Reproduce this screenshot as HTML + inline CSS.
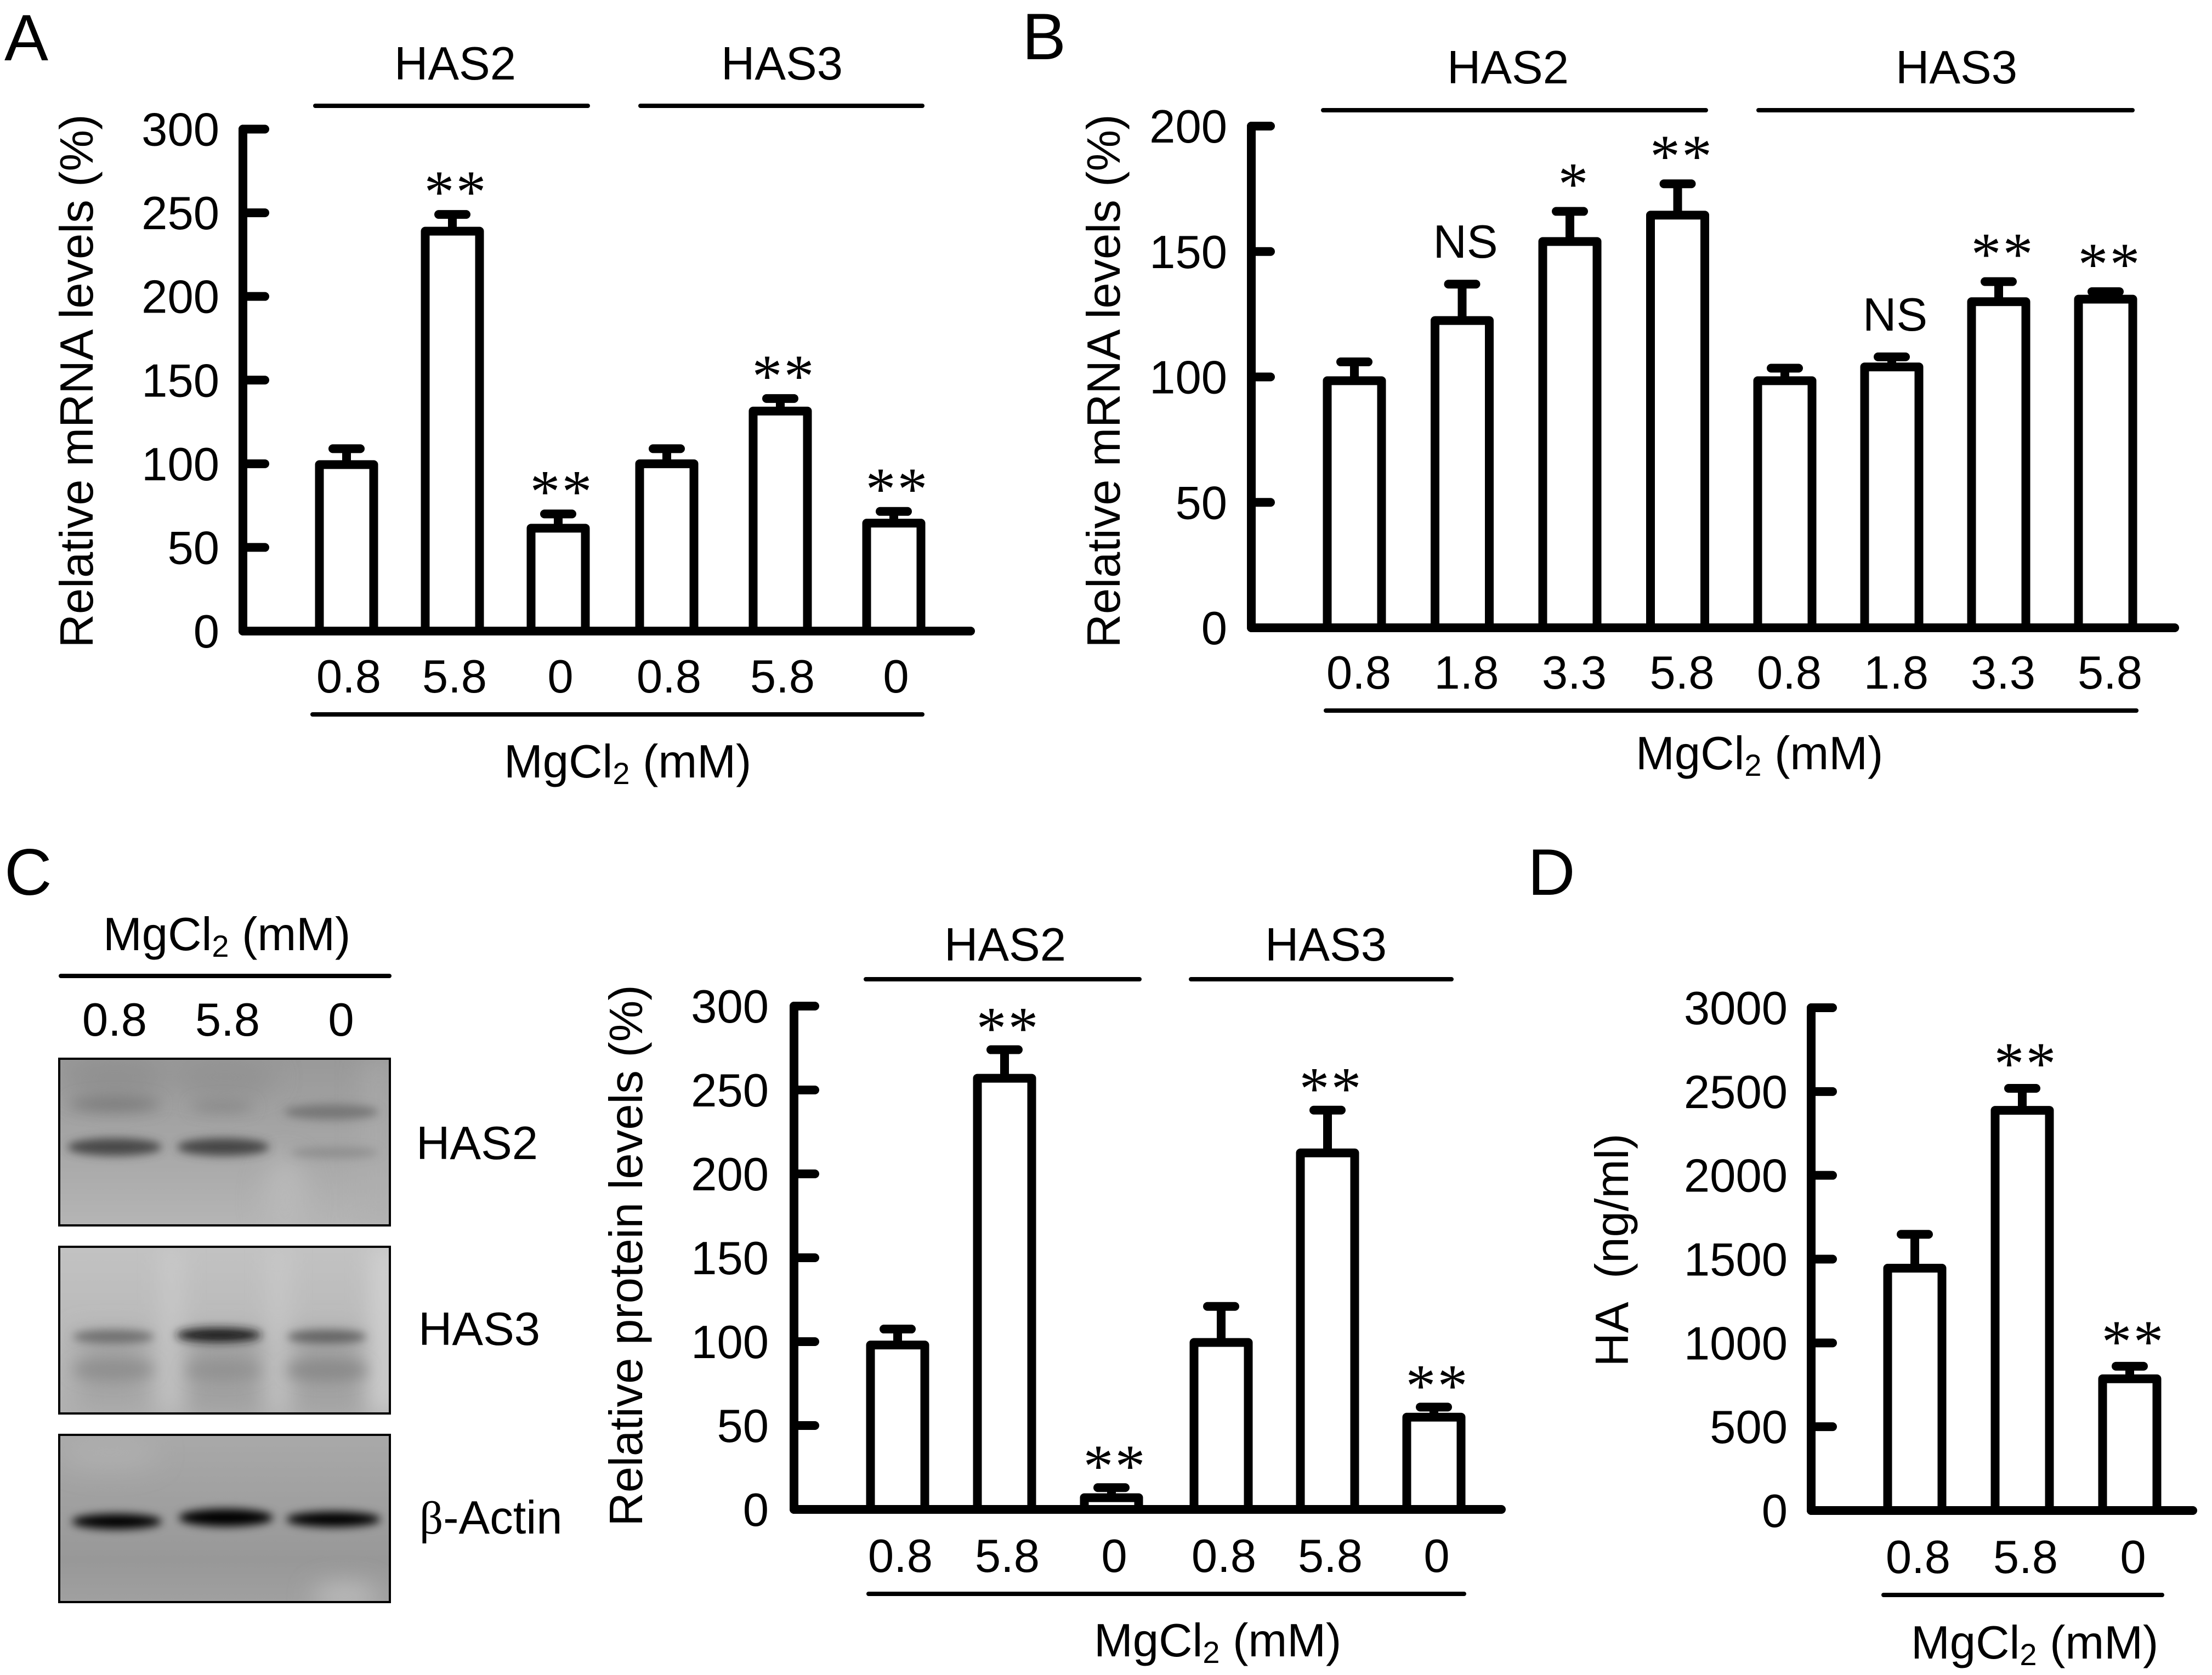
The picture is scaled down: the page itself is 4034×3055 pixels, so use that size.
<!DOCTYPE html>
<html lang="en">
<head>
<meta charset="utf-8">
<title>MgCl2 effects on HAS2 and HAS3</title>
<style>
html,body{margin:0;padding:0;background:#fff;width:4034px;height:3055px;overflow:hidden}
svg{display:block}
text{font-family:"Liberation Sans",Arial,sans-serif;font-size:85px;fill:#000}
.panel-letter{font-size:120px}
.star{font-family:"Liberation Serif","Times New Roman",serif;font-size:110px;text-anchor:middle}
.rule{stroke:#000;stroke-width:8;stroke-linecap:round}
</style>
</head>
<body>
<svg id="figure" xmlns="http://www.w3.org/2000/svg" width="4034" height="3055" viewBox="0 0 4034 3055">
<defs>
<filter id="blur-wide" x="-50%" y="-200%" width="200%" height="500%"><feGaussianBlur stdDeviation="8"/></filter>
<filter id="blur-mid" x="-50%" y="-200%" width="200%" height="500%"><feGaussianBlur stdDeviation="13"/></filter>
<filter id="blur-soft" x="-50%" y="-100%" width="200%" height="300%"><feGaussianBlur stdDeviation="22"/></filter>
<linearGradient id="blot1-bg" x1="0" y1="0" x2="0" y2="1"><stop offset="0" stop-color="#999"/><stop offset=".5" stop-color="#a6a6a6"/><stop offset="1" stop-color="#b5b5b5"/></linearGradient>
<linearGradient id="blot2-bg" x1="0" y1="0" x2="0" y2="1"><stop offset="0" stop-color="#c2c2c2"/><stop offset=".6" stop-color="#b8b8b8"/><stop offset="1" stop-color="#b0b0b0"/></linearGradient>
<linearGradient id="blot3-bg" x1="0" y1="0" x2="0" y2="1"><stop offset="0" stop-color="#a9a9a9"/><stop offset=".4" stop-color="#a0a0a0"/><stop offset=".75" stop-color="#989898"/><stop offset="1" stop-color="#a0a0a0"/></linearGradient>
<clipPath id="clip1"><rect x="108" y="1931" width="603" height="304"/></clipPath>
<clipPath id="clip2"><rect x="108" y="2274" width="603" height="304"/></clipPath>
<clipPath id="clip3"><rect x="108" y="2617" width="603" height="305"/></clipPath>
</defs>

<text class="panel-letter" x="8" y="110">A</text>
<text class="panel-letter" x="1864" y="108">B</text>
<text class="panel-letter" x="8" y="1632">C</text>
<text class="panel-letter" x="2786" y="1632">D</text>

<!-- Western blot, panel C -->
<g>
<text x="188" y="1733">MgCl<tspan font-size="56" dy="12">2</tspan><tspan dy="-12"> (mM)</tspan></text>
<line class="rule" x1="111" y1="1780" x2="710" y2="1780"/>
<text x="209" y="1889" text-anchor="middle">0.8</text>
<text x="415" y="1889" text-anchor="middle">5.8</text>
<text x="622" y="1889" text-anchor="middle">0</text>

<g>
<rect x="108" y="1931" width="603" height="304" fill="url(#blot1-bg)"/>
<g clip-path="url(#clip1)">
<g filter="url(#blur-soft)">
<ellipse cx="209" cy="1965" rx="95" ry="32" fill="#8f8f8f"/>
<ellipse cx="410" cy="1965" rx="95" ry="32" fill="#929292"/>
<rect x="660" y="1931" width="60" height="304" fill="#b0b0b0" opacity=".5"/>
<ellipse cx="520" cy="2190" rx="40" ry="80" fill="#b8b8b8"/>
</g>
<g filter="url(#blur-mid)">
<ellipse cx="209" cy="2014" rx="84" ry="14" fill="#7c7c7c"/>
<ellipse cx="405" cy="2018" rx="58" ry="10" fill="#868686"/>
</g>
<g filter="url(#blur-wide)">
<ellipse cx="209" cy="2092" rx="86" ry="16" fill="#4a4a4a"/>
<ellipse cx="407" cy="2092" rx="84" ry="16" fill="#464646"/>
<ellipse cx="604" cy="2028" rx="86" ry="14" fill="#777"/>
<ellipse cx="610" cy="2102" rx="80" ry="10" fill="#8f8f8f"/>
</g>
</g>
<rect x="108" y="1931" width="603" height="304" fill="none" stroke="#000" stroke-width="4"/>
</g>

<g>
<rect x="108" y="2274" width="603" height="304" fill="url(#blot2-bg)"/>
<g clip-path="url(#clip2)">
<g filter="url(#blur-soft)">
<rect x="140" y="2430" width="130" height="140" fill="#a4a4a4"/>
<rect x="335" y="2430" width="145" height="150" fill="#a0a0a0"/>
<rect x="530" y="2430" width="135" height="150" fill="#a2a2a2"/>
<rect x="680" y="2274" width="40" height="304" fill="#d4d4d4"/>
<rect x="302" y="2274" width="22" height="304" fill="#d0d0d0"/>
<rect x="498" y="2274" width="20" height="304" fill="#cfcfcf"/>
</g>
<g filter="url(#blur-mid)">
<ellipse cx="207" cy="2498" rx="74" ry="20" fill="#8f8f8f"/>
<ellipse cx="407" cy="2499" rx="68" ry="18" fill="#929292"/>
<ellipse cx="596" cy="2499" rx="74" ry="20" fill="#8a8a8a"/>
</g>
<g filter="url(#blur-wide)">
<ellipse cx="207" cy="2438" rx="74" ry="12" fill="#6f6f6f"/>
<ellipse cx="399" cy="2435" rx="78" ry="13" fill="#1c1c1c"/>
<ellipse cx="596" cy="2438" rx="72" ry="12" fill="#646464"/>
</g>
</g>
<rect x="108" y="2274" width="603" height="304" fill="none" stroke="#000" stroke-width="4"/>
</g>

<g>
<rect x="108" y="2617" width="603" height="305" fill="url(#blot3-bg)"/>
<g clip-path="url(#clip3)">
<g filter="url(#blur-soft)">
<ellipse cx="629" cy="2912" rx="60" ry="24" fill="#bcbcbc"/>
<ellipse cx="200" cy="2650" rx="90" ry="30" fill="#aeaeae"/>
</g>
<g filter="url(#blur-wide)">
<ellipse cx="213" cy="2775" rx="82" ry="14" fill="#000"/>
<ellipse cx="412" cy="2768" rx="86" ry="16" fill="#000"/>
<ellipse cx="608" cy="2771" rx="86" ry="14" fill="#000"/>
</g>
</g>
<rect x="108" y="2617" width="603" height="305" fill="none" stroke="#000" stroke-width="4"/>
</g>

<text x="759" y="2114">HAS2</text>
<text x="763" y="2453">HAS3</text>
<text x="765" y="2797"><tspan font-family="Liberation Serif, serif">β</tspan>-Actin</text>
</g>
</svg>

<script>
// Panel A
var aCategories = ['0.8', '5.8', '0', '0.8', '5.8', '0'];
var aValues = [99.5, 239, 61.5, 100, 131.5, 64.5];
var aErrors = [9.5, 10, 8.5, 9, 7.5, 7];
var aMarks = ['', '**', '**', '', '**', '**'];
var aTicks = [0, 50, 100, 150, 200, 250, 300];

// Panel B
var bCategories = ['0.8', '1.8', '3.3', '5.8', '0.8', '1.8', '3.3', '5.8'];
var bValues = [98.5, 122.5, 154, 164.5, 98.5, 104, 130, 131];
var bErrors = [7.5, 14.5, 12, 12.5, 5, 4, 8, 3];
var bMarks = ['', 'NS', '*', '**', '', 'NS', '**', '**'];
var bTicks = [0, 50, 100, 150, 200];

// Panel C (densitometry)
var cCategories = ['0.8', '5.8', '0', '0.8', '5.8', '0'];
var cValues = [98, 257, 7, 99.5, 212.5, 55];
var cErrors = [9.5, 17, 6, 21.5, 25.5, 6];
var cMarks = ['', '**', '**', '', '**', '**'];
var cTicks = [0, 50, 100, 150, 200, 250, 300];

// Panel D
var dCategories = ['0.8', '5.8', '0'];
var dValues = [1446, 2388, 786];
var dErrors = [202, 131, 75];
var dMarks = ['', '**', '**'];
var dTicks = [0, 500, 1000, 1500, 2000, 2500, 3000];

var NS = 'http://www.w3.org/2000/svg';
var svg = document.getElementById('figure');

function make(parent, tag, attrs, content) {
  var node = document.createElementNS(NS, tag);
  for (var k in attrs) { node.setAttribute(k, attrs[k]); }
  if (content !== undefined) { node.textContent = content; }
  parent.appendChild(node);
  return node;
}

function drawChart(p, categories, values, errors, marks, ticks) {
  var yMax = ticks[ticks.length - 1];
  function yScale(v) { return p.base - v * (p.base - p.top) / yMax; }
  function xScale(i) {
    return i < p.split ? p.first + i * p.step : p.second + (i - p.split) * p.step2;
  }

  var g = make(svg, 'g', {});
  
  

  categories.forEach(function (cat, i) {
    var cx = xScale(i);
    var series = p.prefix(i);
    var errTop = yScale(values[i] + errors[i]);
    var whisker = make(g, 'line', {x1: cx, x2: cx, y1: yScale(values[i]), y2: errTop, stroke: '#000', 'stroke-width': p.sw});
    
    
    var cap = make(g, 'line', {x1: cx - p.cap / 2 + p.sw / 2, x2: cx + p.cap / 2 - p.sw / 2, y1: errTop, y2: errTop, stroke: '#000', 'stroke-width': p.sw, 'stroke-linecap': 'round'});
    
    
    var bar = make(g, 'rect', {x: cx - p.barW / 2, y: yScale(values[i]), width: p.barW, height: p.base - yScale(values[i]), fill: '#fff', stroke: '#000', 'stroke-width': p.sw, 'stroke-linejoin': 'round'});
    
    
    var label = make(g, 'text', {x: cx + p.labelShift, y: p.catY, 'text-anchor': 'middle'}, cat);
    
    
    if (marks[i] === 'NS') {
      var ns = make(g, 'text', {x: cx + p.starShift, y: errTop - p.nsGap + 30, 'text-anchor': 'middle'}, 'NS');
      
      
    } else if (marks[i]) {
      var count = marks[i].length;
      for (var s = 0; s < count; s++) {
        var star = make(g, 'text', {'class': 'star', x: cx + p.starShift + (s - (count - 1) / 2) * p.starGap, y: errTop - p.sigGap + 50}, '*');
        
        
      }
    }
  });

  var yAxis = make(g, 'line', {x1: p.axisX, x2: p.axisX, y1: p.top, y2: p.base, stroke: '#000', 'stroke-width': p.sw, 'stroke-linecap': 'round'});
  
  
  var xAxis = make(g, 'line', {x1: p.axisX, x2: p.axisEnd, y1: p.base, y2: p.base, stroke: '#000', 'stroke-width': p.sw, 'stroke-linecap': 'round'});
  
  

  ticks.forEach(function (t) {
    var ty = yScale(t);
    if (t !== 0) {
      var tick = make(g, 'line', {x1: p.axisX, x2: p.tickEnd, y1: ty, y2: ty, stroke: '#000', 'stroke-width': p.sw, 'stroke-linecap': 'round'});
      
      
    }
    var tl = make(g, 'text', {x: p.labelRight, y: ty + 30, 'text-anchor': 'end'}, String(t));
    
    
  });

  var title = make(g, 'text', {x: 0, y: 0, 'text-anchor': 'middle', transform: 'translate(' + p.titleX + ' ' + p.titleY + ') rotate(-90)', style: 'white-space:pre'}, p.title);
  
  

  var doseRule = make(g, 'line', {'class': 'rule', x1: p.ruleL, x2: p.ruleR, y1: p.ruleY, y2: p.ruleY});
  
  

  var xTitle = make(g, 'text', {x: p.unitX, y: p.unitY});
  
  
  make(xTitle, 'tspan', {}, 'MgCl');
  make(xTitle, 'tspan', {'font-size': 56, dy: 12}, '2');
  make(xTitle, 'tspan', {dy: -12, style: 'white-space:pre'}, ' (mM)');

  (p.groups || []).forEach(function (gr) {
    var rule = make(g, 'line', {'class': 'rule', x1: gr.l, x2: gr.r, y1: p.groupRuleY, y2: p.groupRuleY});
    
    
    var head = make(g, 'text', {x: gr.c, y: p.groupY, 'text-anchor': 'middle'}, gr.label);
    
    
  });
}

function groupOfSix(i) { return i < 3 ? 'has2' : 'has3'; }
function groupOfEight(i) { return i < 4 ? 'has2' : 'has3'; }
function ungrouped() { return 'ha'; }

drawChart({
  name: 'panel-a', prefix: groupOfSix, top: 235.5, base: 1151, axisX: 443, axisEnd: 1770, tickEnd: 483,
  first: 632, step: 193, split: 3, second: 1216, step2: 207, barW: 99, sw: 16, cap: 66, catY: 1263, labelShift: 4,
  labelRight: 400, sigGap: 54, nsGap: 78, starGap: 58, starShift: 5,
  title: 'Relative mRNA levels (%)', titleX: 169, titleY: 695,
  ruleL: 570, ruleR: 1682, ruleY: 1303, unitX: 919, unitY: 1418,
  groupRuleY: 193, groupY: 145,
  groups: [{l: 575, r: 1072, c: 830, label: 'HAS2'}, {l: 1168, r: 1682, c: 1426, label: 'HAS3'}]
}, aCategories, aValues, aErrors, aMarks, aTicks);

drawChart({
  name: 'panel-b', prefix: groupOfEight, top: 230, base: 1145, axisX: 2282, axisEnd: 3966, tickEnd: 2317,
  first: 2470, step: 196.5, split: 4, second: 3255, step2: 195, barW: 99, sw: 16, cap: 66, catY: 1256, labelShift: 8,
  labelRight: 2238, sigGap: 63, nsGap: 78, starGap: 58, starShift: 6,
  title: 'Relative mRNA levels (%)', titleX: 2042, titleY: 695,
  ruleL: 2418, ruleR: 3896, ruleY: 1296, unitX: 2983, unitY: 1403,
  groupRuleY: 201, groupY: 152,
  groups: [{l: 2413, r: 3111, c: 2750, label: 'HAS2'}, {l: 3207, r: 3889, c: 3568, label: 'HAS3'}]
}, bCategories, bValues, bErrors, bMarks, bTicks);

drawChart({
  name: 'panel-c', prefix: groupOfSix, top: 1835, base: 2753, axisX: 1448, axisEnd: 2738, tickEnd: 1486,
  first: 1637, step: 195, split: 3, second: 2227, step2: 194, barW: 99, sw: 16, cap: 66, catY: 2867, labelShift: 5,
  labelRight: 1402, sigGap: 52, nsGap: 78, starGap: 58, starShift: 5,
  title: 'Relative protein levels (%)', titleX: 1171, titleY: 2290,
  ruleL: 1584, ruleR: 2670, ruleY: 2907, unitX: 1995, unitY: 3021,
  groupRuleY: 1786, groupY: 1752,
  groups: [{l: 1579, r: 2078, c: 1833, label: 'HAS2'}, {l: 2172, r: 2647, c: 2418, label: 'HAS3'}]
}, cCategories, cValues, cErrors, cMarks, cTicks);

drawChart({
  name: 'panel-d', prefix: ungrouped, top: 1838, base: 2755, axisX: 3303, axisEnd: 3999, tickEnd: 3342,
  first: 3492, step: 196, split: 3, second: 0, step2: 0, barW: 99, sw: 16, cap: 66, catY: 2869, labelShift: 6,
  labelRight: 3260, sigGap: 58, nsGap: 78, starGap: 58, starShift: 5,
  title: 'HA  (ng/ml)', titleX: 2969, titleY: 2280,
  ruleL: 3435, ruleR: 3943, ruleY: 2909, unitX: 3485, unitY: 3025,
  groupRuleY: 0, groupY: 0, groups: []
}, dCategories, dValues, dErrors, dMarks, dTicks);
</script>
</body>
</html>
